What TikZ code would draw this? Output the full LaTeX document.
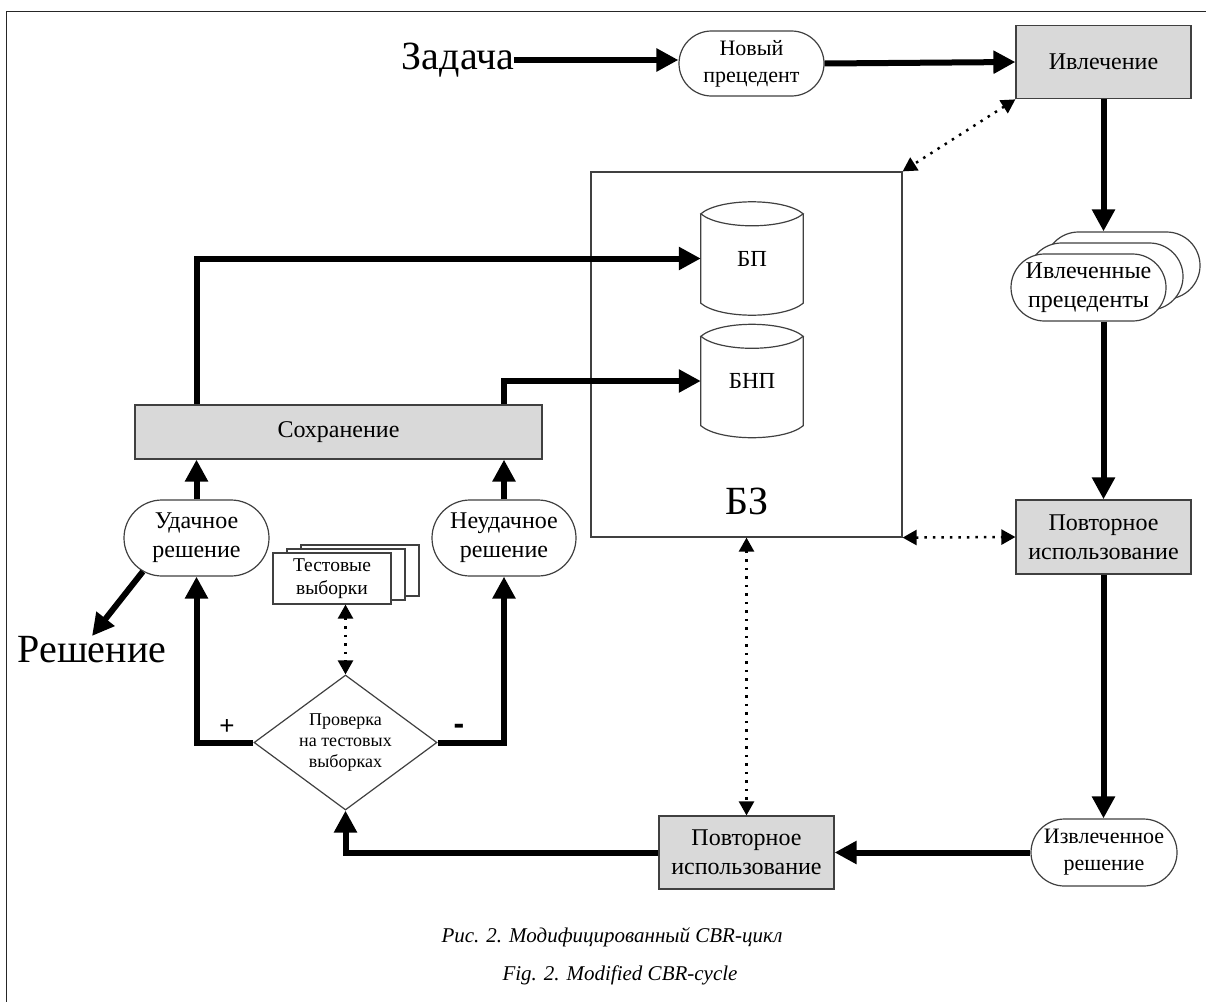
\documentclass[tikz,border=0pt]{standalone}
\usepackage{fontspec}
\setmainfont{Liberation Serif}
\newfontfamily\nf{Liberation Serif}
\newfontfamily\sansf{Liberation Sans}
\usetikzlibrary{arrows.meta,shapes.misc,shapes.geometric,calc}
\newcommand\mycyl[1]{%
  \draw[cylline] ($(#1.north west)+(0,11)$) -- ($(#1.south west)+(0,-11)$)
     .. controls ($(#1.south west)+(19,5)$) and ($(#1.south east)+(-19,5)$) .. ($(#1.south east)+(0,-11)$)
     -- ($(#1.north east)+(0,11)$);
  \draw[cylline] ($(#1.north west)+(0,11)$) .. controls ($(#1.north west)+(19,-5)$) and ($(#1.north east)+(-19,-5)$) .. ($(#1.north east)+(0,11)$)
     .. controls ($(#1.north east)+(-19,27)$) and ($(#1.north west)+(19,27)$) .. cycle;
}
\tikzset{
  box/.style={draw=black!75, line width=1.2pt, fill=black!15, align=center, inner sep=0pt,
    font=\nf\fontsize{24}{29}\selectfont},
  term/.style={rounded rectangle, draw=black!75, line width=1.2pt, fill=white, align=center, inner sep=0pt,
    font=\nf\fontsize{24}{29}\selectfont},
  paper/.style={draw=black!75, line width=1.2pt, fill=white, align=center, inner sep=0pt,
    minimum width=118, minimum height=51, font=\nf\fontsize{19.5}{23}\selectfont},
  cylnode/.style={minimum width=102, minimum height=111, inner sep=0pt, font=\nf\fontsize{23}{28}\selectfont},
  cylline/.style={draw=black!75, line width=1.2pt, fill=white},
  bigtext/.style={font=\fontsize{40}{42}\selectfont, inner sep=0pt},
  thickarr/.style={line width=6pt, -{Triangle[length=22pt,width=22pt]}},
  dotarr/.style={line width=2.5pt, dash pattern=on 2.5pt off 6pt,
    {Triangle[length=14pt,width=15pt]}-{Triangle[length=14pt,width=15pt]}},
  caption/.style={font=\nf\itshape\fontsize{21}{24}\selectfont, inner sep=0pt},
}
\begin{document}
\begin{tikzpicture}[x=1pt,y=-1pt]
\useasboundingbox (0,0) rectangle (1206,1001);
\clip (0,0) rectangle (1206,1001);
\fill[white] (0,0) rectangle (1206,1001);
% frame
\draw[line width=1.5pt, black!85] (6.5,1100) -- (6.5,11.5) -- (1300,11.5);

% knowledge base
\node[draw=black!75, line width=1.2pt, minimum width=311, minimum height=365, inner sep=0pt] (bz) at (746.5,354.5) {};
\node[bigtext] (bzt) at (747,501) {БЗ};
\node[cylnode] (bp) at (752,258.5) {};
\mycyl{bp}
\node[cylnode] at (bp) {БП};
\node[cylnode] (bnp) at (752,381) {};
\mycyl{bnp}
\node[cylnode] at (bnp) {БНП};

% top row
\node[bigtext] (zad) at (458,60) {Задача};
\node[term, minimum width=145, minimum height=65, font=\nf\fontsize{22}{27}\selectfont] (nov) at (751.5,63.5) {Новый\\прецедент};
\node[box, minimum width=175, minimum height=73.5] (ivl) at (1103.5,62) {Ивлечение};

% retrieved cases stack
\node[term, minimum width=155, minimum height=67] (st3) at (1122.5,265.5) {};
\node[term, minimum width=155, minimum height=67] (st2) at (1105.5,276.5) {};
\node[term, minimum width=155, minimum height=67] (st1) at (1088.5,287.5) {Ивлеченные\\прецеденты};

\node[box, minimum width=175, minimum height=74] (reuse1) at (1103.5,537) {Повторное\\использование};
\node[term, minimum width=146, minimum height=67, font=\nf\fontsize{22}{27}\selectfont] (izv) at (1104,852.5) {Извлеченное\\решение};
\node[box, minimum width=175, minimum height=73] (reuse2) at (746.5,852.5) {Повторное\\использование};

% left part
\node[box, minimum width=407, minimum height=54] (sokh) at (338.5,432) {Сохранение};
\node[term, minimum width=145, minimum height=76] (udach) at (196.5,538) {Удачное\\решение};
\node[term, minimum width=144, minimum height=76] (neud) at (504,538) {Неудачное\\решение};
\node[paper] (t3) at (360,570.5) {};
\node[paper] (t2) at (346,574.5) {};
\node[paper] (t1) at (332,578.5) {Тестовые\\выборки};
\node[diamond, aspect=1.356, draw=black!75, line width=1.2pt, fill=white, inner sep=0pt,
  minimum width=183, minimum height=135, align=center,
  font=\nf\fontsize{18}{21}\selectfont] (chk) at (345.5,742.5) {Проверка\\на тестовых\\выборках};
\node[bigtext, anchor=north] (resh) at (92,636) {Решение};
\node[font=\sansf\fontsize{26}{28}\selectfont, inner sep=0pt] (plus) at (227,727) {+};
\node[font=\sansf\bfseries\fontsize{32}{34}\selectfont, inner sep=0pt] (minus) at (459,729) {-};

% captions
\node[caption] (cap1) at (612,937) {Рис. 2. Модифицированный CBR-цикл};
\node[caption] (cap2) at (620,975) {Fig. 2. Modified CBR-cycle};

% thick connectors
\draw[thickarr] (zad.east) -- (zad.east -| nov.west);
\draw[thickarr] (nov.east) -- (ivl.west);
\draw[thickarr] (ivl.south) -- (ivl.south |- st3.north);
\draw[thickarr] (reuse1.north |- st1.south) -- (reuse1.north);
\draw[thickarr] (reuse1.south) -- (reuse1.south |- izv.north);
\draw[thickarr] (izv.west) -- (reuse2.east);
\draw[thickarr] (reuse2.west) -| (chk.south);
\draw[thickarr] (chk.west) -| (udach.south);
\draw[thickarr] (chk.east) -| (neud.south);
\draw[thickarr] (udach.north) -- (udach.north |- sokh.south);
\draw[thickarr] (neud.north) -- (neud.north |- sokh.south);
\draw[thickarr] (udach.north |- sokh.north) |- (bp.west);
\draw[thickarr] (neud.north |- sokh.north) |- (bnp.west);
\draw[thickarr] (udach.212) -- (resh.north);

% dotted connectors
\draw[dotarr] (ivl.south west) -- (bz.north east);
\draw[dotarr] (bz.south east) -- (reuse1.west);
\draw[dotarr] (bz.south) -- (reuse2.north);
\draw[dotarr] (chk.north |- t1.south) -- (chk.north);
\end{tikzpicture}
\end{document}
